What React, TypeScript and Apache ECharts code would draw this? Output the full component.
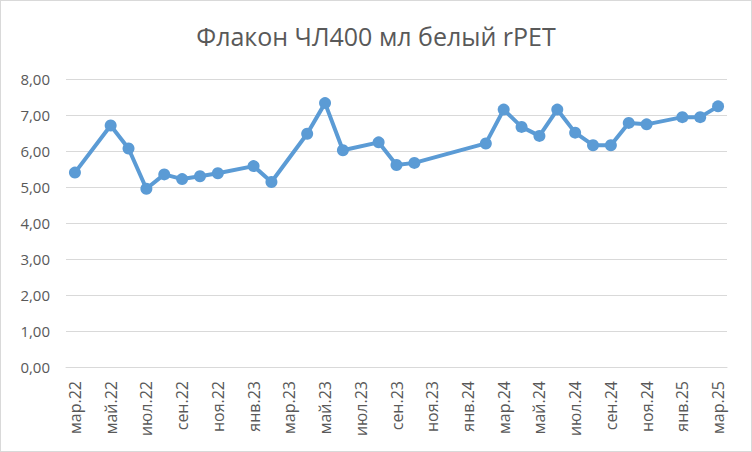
import React, { useEffect, useRef } from "react";
import * as echarts from "echarts";

const titleText = "Флакон ЧЛ400 мл белый rPET";

const months = [
  "мар.22", "апр.22", "май.22", "июн.22", "июл.22", "авг.22", "сен.22", "окт.22", "ноя.22", "дек.22",
  "янв.23", "фев.23", "мар.23", "апр.23", "май.23", "июн.23", "июл.23", "авг.23", "сен.23", "окт.23",
  "ноя.23", "дек.23", "янв.24", "фев.24", "мар.24", "апр.24", "май.24", "июн.24", "июл.24", "авг.24",
  "сен.24", "окт.24", "ноя.24", "дек.24", "янв.25", "фев.25", "мар.25",
];

const prices: (number | null)[] = [
  5.40, null, 6.71, 6.07, 4.95, 5.35, 5.22, 5.30, 5.38, null,
  5.58, 5.14, null, 6.48, 7.33, 6.02, null, 6.24, 5.61, 5.67,
  null, null, null, 6.21, 7.15, 6.67, 6.42, 7.15, 6.51, 6.16,
  6.16, 6.78, 6.74, null, 6.94, 6.94, 7.24,
];

const yMin = 0;
const yMax = 8;
const yStep = 1;

export default function App() {
  const ref = useRef<HTMLDivElement>(null);
  useEffect(() => {
    if (!ref.current) return;
    const chart = echarts.init(ref.current, undefined, { renderer: "svg" });
    const font = "'Open Sans', 'Noto Sans', sans-serif";
    chart.setOption({
      animation: false,
      backgroundColor: "#ffffff",
      title: {
        text: titleText,
        left: "center",
        top: 17,
        textStyle: { fontFamily: font, fontSize: 25, fontWeight: "normal", color: "#595959" },
      },
      grid: { left: 65, right: 24, top: 78, bottom: 84, containLabel: false },
      xAxis: {
        type: "category",
        data: months,
        boundaryGap: true,
        axisLine: { show: true, lineStyle: { color: "#d9d9d9", width: 1 } },
        axisTick: { show: false },
        axisLabel: {
          rotate: 90,
          interval: 1,
          margin: 14,
          color: "#595959",
          fontFamily: font,
          fontSize: 16,
        },
        splitLine: { show: false },
      },
      yAxis: {
        type: "value",
        min: yMin,
        max: yMax,
        interval: yStep,
        axisLine: { show: false },
        axisTick: { show: false },
        axisLabel: {
          margin: 16,
          color: "#595959",
          fontFamily: font,
          fontSize: 15,
          formatter: (v: number) => v.toFixed(2).replace(".", ","),
        },
        splitLine: { lineStyle: { color: "#d9d9d9", width: 1 } },
      },
      series: [
        {
          type: "line",
          data: prices,
          connectNulls: true,
          showAllSymbol: true,
          symbol: "circle",
          symbolSize: 12,
          itemStyle: { color: "#5b9bd5" },
          lineStyle: { color: "#5b9bd5", width: 4, cap: "round", join: "round" },
        },
      ],
    });
    return () => chart.dispose();
  }, []);
  return (
    <div
      style={{
        position: "fixed",
        left: 0,
        top: 0,
        width: 752,
        height: 452,
        boxSizing: "border-box",
        border: "1px solid #d9d9d9",
        background: "#fff",
      }}
    >
      <div ref={ref} style={{ width: 750, height: 450 }} />
    </div>
  );
}
